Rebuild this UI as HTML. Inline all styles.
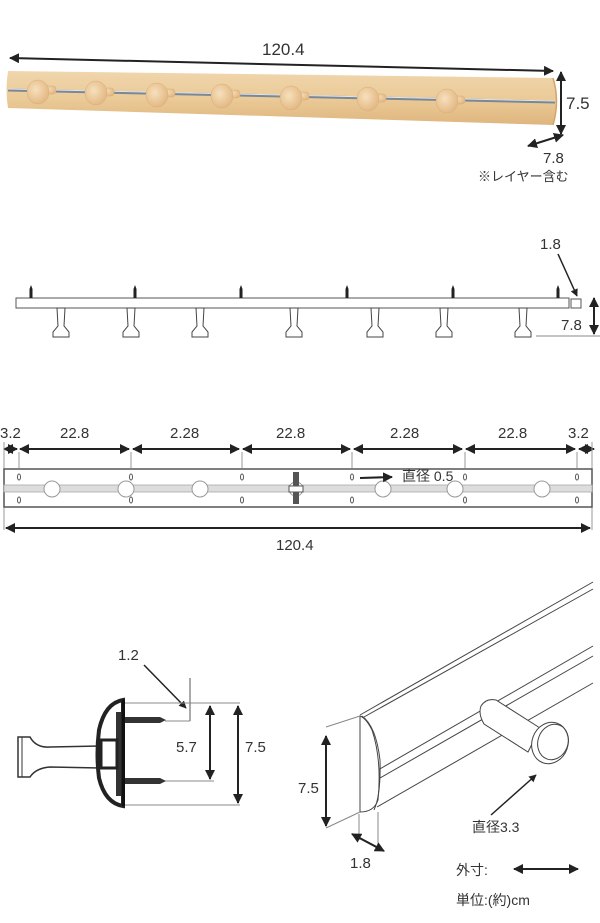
<!DOCTYPE html>
<html><head><meta charset="utf-8"><style>
html,body{margin:0;padding:0;background:#fff;}
svg{display:block;}
text{font-family:"Liberation Sans","Noto Sans CJK JP",sans-serif;fill:#333;}
</style></head><body>
<svg width="600" height="923" viewBox="0 0 600 923" xmlns="http://www.w3.org/2000/svg">
<defs>
<marker id="a" viewBox="0 0 10 10" refX="9" refY="5" markerWidth="5" markerHeight="5" orient="auto-start-reverse"><path d="M0,0L10,5L0,10z" fill="#222"/></marker>
<linearGradient id="w" x1="0" y1="0" x2="0" y2="1"><stop offset="0" stop-color="#f0d6ad"/><stop offset="0.5" stop-color="#ebcb98"/><stop offset="1" stop-color="#dfb57e"/></linearGradient>
<radialGradient id="k" cx="0.4" cy="0.4" r="0.7"><stop offset="0" stop-color="#f7e0bd"/><stop offset="1" stop-color="#e0b37c"/></radialGradient>
</defs>

<!-- TOP: wooden bar -->
<line x1="10" y1="58" x2="553" y2="71" stroke="#222" stroke-width="2" marker-start="url(#a)" marker-end="url(#a)"/>
<text x="262" y="55" font-size="17">120.4</text>
<path d="M8,71 L553,78 Q560,101 553,125 L8,108 Q5,90 8,71z" fill="url(#w)"/>
<path d="M553,78 Q560,101 553,125" fill="none" stroke="#d2a46a" stroke-width="1.5"/>
<path d="M8,90 L555,102" stroke="#7b8794" stroke-width="3"/>
<path d="M8,89 L555,101" stroke="#dfe6ee" stroke-width="1"/>
<g fill="url(#k)" stroke="#d8ac78" stroke-width="0.5">
<rect x="42" y="86" width="14" height="8" rx="3"/><ellipse cx="38" cy="92" rx="11" ry="12"/>
<rect x="100" y="88" width="14" height="8" rx="3"/><ellipse cx="96" cy="93" rx="11" ry="12"/>
<rect x="161" y="89" width="14" height="8" rx="3"/><ellipse cx="157" cy="95" rx="11" ry="12"/>
<rect x="226" y="90" width="14" height="8" rx="3"/><ellipse cx="222" cy="96" rx="11" ry="12"/>
<rect x="295" y="92" width="14" height="8" rx="3"/><ellipse cx="291" cy="98" rx="11" ry="12"/>
<rect x="372" y="94" width="14" height="8" rx="3"/><ellipse cx="368" cy="99" rx="11" ry="12"/>
<rect x="451" y="96" width="14" height="8" rx="3"/><ellipse cx="447" cy="101" rx="11" ry="12"/>
</g>
<line x1="561" y1="72" x2="561" y2="134" stroke="#222" stroke-width="2" marker-start="url(#a)" marker-end="url(#a)"/>
<text x="566" y="109" font-size="17">7.5</text>
<line x1="528" y1="146" x2="563" y2="135" stroke="#222" stroke-width="2" marker-start="url(#a)" marker-end="url(#a)"/>
<text x="543" y="163" font-size="15">7.8</text>
<text x="478" y="181" font-size="13">※レイヤー含む</text>

<!-- SIDE VIEW -->
<rect x="16" y="298" width="553" height="10" fill="#fff" stroke="#555" stroke-width="1"/>
<rect x="571" y="299" width="10" height="9" fill="#fff" stroke="#555" stroke-width="1"/>
<g fill="#222">
<path d="M29.5,298 L29.5,289 L31,285 L32.5,289 L32.5,298z"/>
<path d="M133.5,298 L133.5,289 L135,285 L136.5,289 L136.5,298z"/>
<path d="M239.5,298 L239.5,289 L241,285 L242.5,289 L242.5,298z"/>
<path d="M345.5,298 L345.5,289 L347,285 L348.5,289 L348.5,298z"/>
<path d="M451.5,298 L451.5,289 L453,285 L454.5,289 L454.5,298z"/>
<path d="M556.5,298 L556.5,289 L558,285 L559.5,289 L559.5,298z"/>
</g>
<g fill="#fff" stroke="#444" stroke-width="1">
<path d="M57,308 L65,308 L64,326 L69,332 L69,337 L53,337 L53,332 L58,326z"/>
<path d="M127,308 L135,308 L134,326 L139,332 L139,337 L123,337 L123,332 L128,326z"/>
<path d="M196,308 L204,308 L203,326 L208,332 L208,337 L192,337 L192,332 L197,326z"/>
<path d="M290,308 L298,308 L297,326 L302,332 L302,337 L286,337 L286,332 L291,326z"/>
<path d="M371,308 L379,308 L378,326 L383,332 L383,337 L367,337 L367,332 L372,326z"/>
<path d="M440,308 L448,308 L447,326 L452,332 L452,337 L436,337 L436,332 L441,326z"/>
<path d="M519,308 L527,308 L526,326 L531,332 L531,337 L515,337 L515,332 L520,326z"/>
</g>
<text x="540" y="249" font-size="15">1.8</text>
<line x1="558" y1="254" x2="577" y2="296" stroke="#222" stroke-width="1.5" marker-end="url(#a)"/>
<line x1="594" y1="298" x2="594" y2="334" stroke="#222" stroke-width="2" marker-start="url(#a)" marker-end="url(#a)"/>
<line x1="536" y1="336" x2="600" y2="336" stroke="#888" stroke-width="1"/>
<text x="561" y="330" font-size="15">7.8</text>

<!-- PLAN VIEW -->
<g font-size="15">
<text x="0" y="438">3.2</text><text x="60" y="438">22.8</text><text x="170" y="438">2.28</text><text x="276" y="438">22.8</text><text x="390" y="438">2.28</text><text x="498" y="438">22.8</text><text x="568" y="438">3.2</text>
</g>
<g stroke="#222" stroke-width="2" marker-start="url(#a)" marker-end="url(#a)">
<line x1="4" y1="449" x2="17" y2="449"/><line x1="20" y1="449" x2="129" y2="449"/><line x1="133" y1="449" x2="239" y2="449"/><line x1="243" y1="449" x2="350" y2="449"/><line x1="354" y1="449" x2="462" y2="449"/><line x1="466" y1="449" x2="575" y2="449"/><line x1="579" y1="449" x2="594" y2="449"/>
</g>
<g stroke="#999" stroke-width="1">
<line x1="4" y1="442" x2="4" y2="530"/><line x1="19" y1="452" x2="19" y2="468"/><line x1="131" y1="452" x2="131" y2="468"/><line x1="242" y1="452" x2="242" y2="468"/><line x1="352" y1="452" x2="352" y2="468"/><line x1="465" y1="452" x2="465" y2="468"/><line x1="577" y1="452" x2="577" y2="468"/><line x1="592" y1="442" x2="592" y2="530"/>
</g>
<rect x="4" y="469" width="588" height="38" fill="#fff" stroke="#555" stroke-width="1.5"/>
<rect x="4" y="485" width="588" height="7" fill="#ddd" stroke="#aaa" stroke-width="0.8"/>
<g fill="#fff" stroke="#999" stroke-width="1">
<circle cx="52" cy="489" r="8"/><circle cx="126" cy="489" r="8"/><circle cx="200" cy="489" r="8"/><circle cx="296" cy="489" r="7"/><circle cx="383" cy="489" r="8"/><circle cx="455" cy="489" r="8"/><circle cx="542" cy="489" r="8"/>
</g>
<rect x="293" y="472" width="6" height="32" fill="#555"/>
<rect x="289" y="486" width="14" height="6" fill="#fff" stroke="#555"/>
<g fill="none" stroke="#555" stroke-width="1">
<ellipse cx="19" cy="477" rx="1.5" ry="3"/><ellipse cx="19" cy="500" rx="1.5" ry="3"/>
<ellipse cx="131" cy="477" rx="1.5" ry="3"/><ellipse cx="131" cy="500" rx="1.5" ry="3"/>
<ellipse cx="242" cy="477" rx="1.5" ry="3"/><ellipse cx="242" cy="500" rx="1.5" ry="3"/>
<ellipse cx="352" cy="477" rx="1.5" ry="3"/><ellipse cx="352" cy="500" rx="1.5" ry="3"/>
<ellipse cx="465" cy="477" rx="1.5" ry="3"/><ellipse cx="465" cy="500" rx="1.5" ry="3"/>
<ellipse cx="577" cy="477" rx="1.5" ry="3"/><ellipse cx="577" cy="500" rx="1.5" ry="3"/>
</g>
<line x1="360" y1="478" x2="392" y2="477" stroke="#222" stroke-width="2" marker-end="url(#a)"/>
<text x="402" y="481" font-size="14">直径 0.5</text>
<line x1="6" y1="528" x2="590" y2="528" stroke="#222" stroke-width="2" marker-start="url(#a)" marker-end="url(#a)"/>
<text x="276" y="550" font-size="15">120.4</text>

<!-- LOWER LEFT section -->
<text x="118" y="660" font-size="15">1.2</text>
<line x1="144" y1="665" x2="186" y2="708" stroke="#222" stroke-width="1.5" marker-end="url(#a)"/>
<line x1="190" y1="678" x2="190" y2="721" stroke="#555" stroke-width="1"/>
<g stroke="#888" stroke-width="1">
<line x1="124" y1="703" x2="240" y2="703"/><line x1="124" y1="805" x2="240" y2="805"/>
<line x1="165" y1="721" x2="190" y2="721"/><line x1="165" y1="781" x2="214" y2="781"/>
</g>
<path d="M18,737 L30,737 Q36,748 50,747 L100,746 L100,768 L50,767 Q36,768 30,777 L18,777z" fill="#fff" stroke="#333" stroke-width="1.5"/>
<line x1="22" y1="737" x2="22" y2="777" stroke="#333"/>
<path d="M123,700 Q105,703 99,730 Q96,754 99,778 Q105,803 123,806z" fill="#fff" stroke="#222" stroke-width="4"/>
<path d="M116,712 L121,712 L121,796 L116,796z" fill="#333"/>
<rect x="101" y="740" width="16" height="28" fill="#fff" stroke="#222" stroke-width="3"/>
<rect x="122" y="700" width="3" height="106" fill="#111"/>
<path d="M125,717 L160,717 L166,720 L160,723 L125,723z" fill="#333"/>
<path d="M125,778 L160,778 L166,781 L160,784 L125,784z" fill="#333"/>
<line x1="210" y1="706" x2="210" y2="779" stroke="#222" stroke-width="2" marker-start="url(#a)" marker-end="url(#a)"/>
<line x1="238" y1="706" x2="238" y2="803" stroke="#222" stroke-width="2" marker-start="url(#a)" marker-end="url(#a)"/>
<text x="176" y="752" font-size="15">5.7</text>
<text x="245" y="752" font-size="15">7.5</text>

<!-- LOWER RIGHT isometric -->
<g fill="none" stroke="#444" stroke-width="1">
<line x1="360" y1="715" x2="593" y2="582"/>
<line x1="364" y1="717" x2="593" y2="589"/>
<line x1="378" y1="770" x2="593" y2="646"/>
<line x1="380" y1="778" x2="593" y2="656"/>
<line x1="377" y1="807" x2="593" y2="683"/>
<path d="M360,716 L360,812 Q374,812 378,800 Q382,760 372,730 Q366,718 360,716z" fill="#fff"/>
<path d="M362,716 Q376,726 380,760 Q381,795 374,810"/>
<path d="M481,706 Q486,698 496,700 L540,728 L528,752 L484,724 Q478,714 481,706z" fill="#fff"/>
<ellipse cx="550" cy="743" rx="18" ry="21" transform="rotate(20 550 743)" fill="#fff"/>
<ellipse cx="553" cy="742" rx="15" ry="18" transform="rotate(20 553 742)"/>
<line x1="326" y1="727" x2="360" y2="716" stroke="#888"/>
<line x1="326" y1="828" x2="360" y2="812" stroke="#888"/>
<line x1="359" y1="814" x2="359" y2="840" stroke="#888"/>
<line x1="378" y1="812" x2="378" y2="848" stroke="#888"/>
</g>
<line x1="326" y1="736" x2="326" y2="826" stroke="#222" stroke-width="2" marker-start="url(#a)" marker-end="url(#a)"/>
<text x="298" y="793" font-size="15">7.5</text>
<line x1="491" y1="815" x2="536" y2="775" stroke="#222" stroke-width="1.5" marker-end="url(#a)"/>
<text x="472" y="832" font-size="14">直径3.3</text>
<line x1="352" y1="834" x2="384" y2="851" stroke="#222" stroke-width="2" marker-start="url(#a)" marker-end="url(#a)"/>
<text x="350" y="868" font-size="15">1.8</text>

<text x="456" y="875" font-size="14">外寸:</text>
<line x1="514" y1="869" x2="578" y2="869" stroke="#222" stroke-width="2" marker-start="url(#a)" marker-end="url(#a)"/>
<text x="456" y="905" font-size="14">単位:(約)cm</text>
</svg>
</body></html>
